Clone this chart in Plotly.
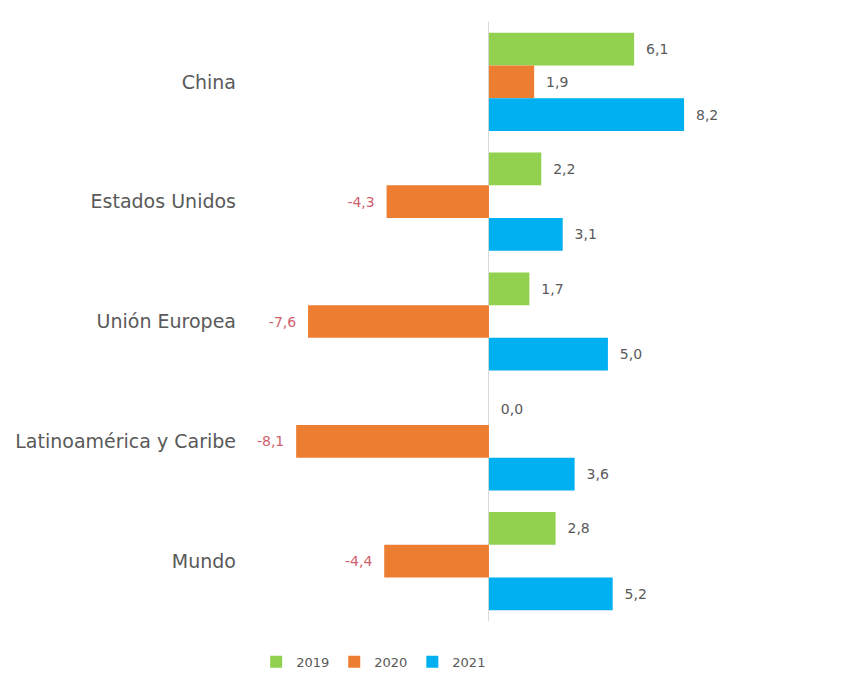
import plotly.graph_objects as go

regions = ["China", "Estados Unidos", "Unión Europea", "Latinoamérica y Caribe", "Mundo"]
years = ["2019", "2020", "2021"]
growth_2019 = [6.1, 2.2, 1.7, 0.0, 2.8]
growth_2020 = [1.9, -4.3, -7.6, -8.1, -4.4]
growth_2021 = [8.2, 3.1, 5.0, 3.6, 5.2]

series = [growth_2019, growth_2020, growth_2021]
colors = ["#92D050", "#ED7D31", "#00B0F0"]

POS_TEXT = "#595959"
NEG_TEXT = "#D0606E"
NBSP = "\u00a0"
FONT = "DejaVu Sans, sans-serif"


def fmt(v):
    s = f"{v:.1f}".replace(".", ",")
    return s + NBSP * 2 if v < 0 else NBSP * 2 + s


fig = go.Figure()
for name, vals, col in zip(years, series, colors):
    fig.add_trace(go.Bar(
        name=name,
        y=regions,
        x=vals,
        orientation="h",
        marker=dict(color=col, line=dict(width=0)),
        text=[fmt(v) for v in vals],
        textposition="outside",
        textfont=dict(family=FONT, size=14,
                      color=[NEG_TEXT if v < 0 else POS_TEXT for v in vals]),
        constraintext="none",
        cliponaxis=False,
        hoverinfo="skip",
    ))

fig.update_layout(
    width=847,
    height=675,
    margin=dict(l=240, r=87, t=22, b=54, autoexpand=False),
    paper_bgcolor="white",
    plot_bgcolor="white",
    barmode="group",
    bargap=0.18,
    bargroupgap=0,
    font=dict(family=FONT, color="#595959", size=15),
    showlegend=True,
    legend=dict(
        orientation="h",
        x=0.257,
        xanchor="center",
        y=-0.068,
        yanchor="middle",
        font=dict(family=FONT, size=13, color="#595959"),
        itemwidth=30,
        traceorder="normal",
    ),
    xaxis=dict(
        range=[-10.46, 11.39],
        showgrid=False,
        showticklabels=False,
        zeroline=True,
        zerolinecolor="#D9D9D9",
        zerolinewidth=1,
        showline=False,
        ticks="",
        fixedrange=True,
    ),
    yaxis=dict(
        autorange="reversed",
        showgrid=False,
        showline=False,
        ticks="",
        ticklabelstandoff=3,
        tickfont=dict(family=FONT, size=19, color="#595959"),
        fixedrange=True,
    ),
)

fig.write_html("out.html")
